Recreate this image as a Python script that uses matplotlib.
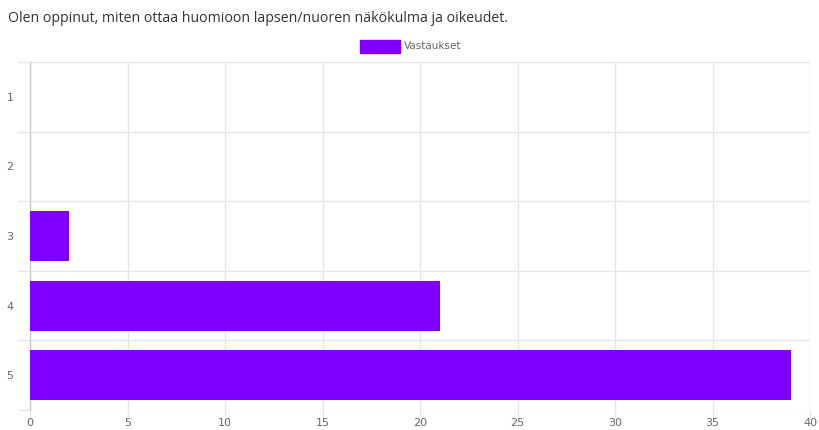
import numpy as np
import matplotlib.pyplot as plt
from matplotlib.patches import Rectangle

categories = ["1", "2", "3", "4", "5"]
values = [0, 0, 2, 21, 39]
title = "Olen oppinut, miten ottaa huomioon lapsen/nuoren näkökulma ja oikeudet."
series_name = "Vastaukset"
bar_color = "#7f00ff"

fig = plt.figure(figsize=(8.2, 4.3), dpi=100)
ax = fig.add_axes([30 / 820, 1 - 410 / 430, 780 / 820, 348 / 430])

y = np.arange(len(categories))
ax.barh(y, values, height=0.72, color=bar_color, linewidth=0, zorder=3)

ax.set_xlim(0, 40)
ax.set_ylim(len(categories) - 0.5, -0.5)
ax.set_xticks(np.arange(0, 41, 5))
ax.set_yticks(np.arange(-0.5, len(categories), 1), minor=False)
ax.set_yticklabels([])
ax.set_yticks(y, minor=True)
ax.set_yticklabels(categories, minor=True)

ax.grid(True, axis="both", which="major", color="#e6e6e6", linewidth=1, zorder=0)
ax.tick_params(axis="y", which="major", length=9, color="#e6e6e6", width=1)
ax.tick_params(axis="y", which="minor", length=0, pad=12, labelsize=8, labelcolor="#666666")
ax.tick_params(axis="x", length=5, color="#e6e6e6", width=1, labelsize=8, labelcolor="#666666", pad=1)

for s in ["top", "right", "bottom"]:
    ax.spines[s].set_visible(False)
ax.spines["left"].set_color("#cccccc")
ax.spines["left"].set_linewidth(1)

fig.text(8 / 820, 1 - 18 / 430, title, fontsize=10.2, color="#333333", va="center", ha="left",
         family="Open Sans")

# legend
fig.patches.append(Rectangle((360 / 820, 1 - 53 / 430), 40 / 820, 13 / 430,
                             transform=fig.transFigure, color=bar_color, figure=fig))
fig.text(404 / 820, 1 - 46 / 430, series_name, fontsize=7.5, color="#666666", va="center", ha="left")

fig.savefig("out.png", dpi=100)
